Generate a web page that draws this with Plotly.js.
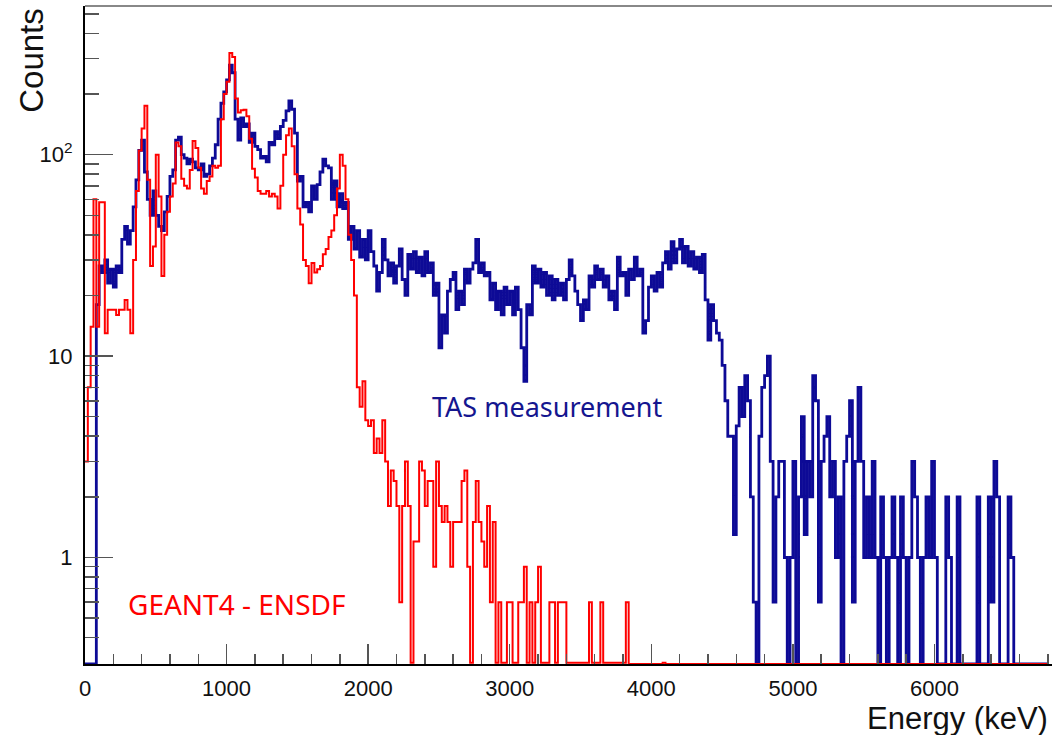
<!DOCTYPE html>
<html>
<head>
<meta charset="utf-8">
<script src="https://cdn.plot.ly/plotly-3.0.1.min.js"></script>
<style>
  html, body { margin: 0; padding: 0; background: #ffffff; }
  #chart { width: 1052px; height: 735px; }
</style>
</head>
<body>
<div id="chart"></div>
<script>
// ---- Histogram binning (energy axis, keV) ----
const binStartKeV = 0;
const binWidthKeV = 20;

// ---- TAS measurement (blue), counts per 20 keV bin, 0 - 6800 keV ----
const tasCounts = [
  0,0,0,0,18,28,26,30,23,27,
  22,28,26,38,44,36,42,55,75,105,
  118,82,60,50,66,50,44,42,52,62,
  78,84,118,122,100,96,90,95,92,86,
  84,90,78,80,88,96,112,150,180,205,
  235,278,255,150,118,152,138,142,115,128,
  110,106,96,98,92,115,112,130,120,138,
  148,165,185,168,128,74,78,55,58,52,
  70,60,71,82,95,88,86,60,74,55,
  64,54,58,38,44,34,42,31,38,30,
  42,33,28,21,26,38,30,25,29,23,
  28,34,24,20,32,27,33,26,31,25,
  33,26,29,20,23,11,16,13,21,24,
  26,17,21,18,27,23,27,29,38,26,
  29,25,26,19,23,17,21,16,22,18,
  21,16,22,17,11,7.5,18,16,28,23,
  27,22,26,20,25,19,24,20,23,19,
  24,30,25,21,18,15,19,17,25,22,
  28,24,27,22,25,19,21,17,31,25,
  26,20,27,24,31,25,27,13,15,22,
  25,21,26,22,29,33,27,37,29,34,
  38,29,35,28,33,27,31,26,32,19,
  12,18,15,13,12,9,6,4,4,1.3,
  4.5,7,5,8,6,2,0.6,0,4,7,
  8,10,3,0.6,2,3,3,1,0,1,
  3,0,2,5,1.3,3,2,8,6,0.6,
  3,4,5,2,3,1,2,0,3,4,
  6,0.6,3,7,3,1,2,1,3,1,
  0,2,1,0,1,2,1,0,2,1,
  0,1,3,2,1,0,1,2,1,3,
  1,0,0,0,2,1,0,0,2,0,
  0,0,0,0,0,2,0,0,0,2,
  0.6,3,2,0,0,0,2,1,0,0,
  0,0,0,0,0,0,0,0,0,0
];

// ---- GEANT4 - ENSDF simulation (red), counts per 20 keV bin ----
const geantCounts = [
  3,7,14,60,14,58,58,13,17,17,
  17,16,17,17,19,17,13,30,66,105,
  135,175,75,28,35,100,62,25,40,52,
  62,72,115,110,76,70,68,84,117,108,
  86,68,64,74,78,88,86,88,150,200,
  230,320,305,190,162,166,167,155,120,85,
  77,66,64,64,66,62,64,62,54,70,
  100,125,135,110,80,54,45,30,28,23,
  29,26,27,28,32,34,39,42,50,68,
  100,88,60,40,30,20,7,5.6,7.5,4.8,
  4.5,4.8,3.3,3.9,3.3,4.8,3.0,1.8,2.7,2.4,
  1.8,0.6,1.8,3.0,1.8,0.3,1.2,1.2,3.0,2.7,
  1.8,2.4,2.4,0.9,3.0,1.8,1.5,1.8,1.5,0.9,
  1.5,1.5,1.5,2.4,2.7,0.9,0.3,1.5,2.4,1.5,
  1.2,0.9,1.8,0.6,1.5,0.3,0.6,0.3,0.3,0.6,
  0.6,0.3,0.3,0.6,0.6,0.9,0.3,0.6,0.3,0.6,
  0.9,0.3,0.3,0.3,0.6,0.6,0.3,0.6,0.6,0.6,
  0.3,0.3,0.3,0.3,0.3,0.3,0.3,0.3,0.6,0.3,
  0.3,0.3,0.6,0.3,0.3,0.3,0.3,0.3,0.3,0.3,
  0.3,0.6,0,0,0,0,0,0,0,0,
  0,0,0,0,0.3,0,0,0,0,0,
  0,0,0,0,0,0,0,0,0,0,
  0,0,0,0,0,0,0,0,0,0,
  0,0,0,0,0,0,0,0,0,0,
  0,0,0,0,0,0,0,0,0,0,
  0,0,0,0,0,0,0,0,0,0,
  0,0,0,0,0,0,0,0,0,0,
  0,0,0,0,0,0,0,0,0,0,
  0,0,0,0,0,0,0,0,0,0,
  0,0,0,0,0,0,0,0,0,0,
  0,0,0,0,0,0,0,0,0,0,
  0,0,0,0,0,0,0,0,0,0,
  0,0,0,0,0,0,0,0,0,0,
  0,0,0,0,0,0,0,0,0,0
];

// ---- Axis tick labels ----
const yTickVals = [1, 10, 100];
const yTickText = ['1', '10', '10<sup>2</sup>'];
const yMinorVals = [0.4,0.5,0.6,0.7,0.8,0.9, 2,3,4,5,6,7,8,9, 20,30,40,50,60,70,80,90, 200,300,400,500];

const yMin = 0.296, yMax = 547;
const xMax = 6830;

// empty bins are drawn at the bottom of the frame (ROOT style on log axis)
function stepTrace(counts, color, width, name) {
  const x = [], y = [];
  counts.forEach((c, i) => {
    x.push(binStartKeV + i * binWidthKeV);
    y.push(c > 0 ? c : yMin);
  });
  x.push(binStartKeV + counts.length * binWidthKeV);
  y.push(y[y.length - 1]);
  return {
    type: 'scatter', mode: 'lines', name: name,
    x: x, y: y,
    line: { shape: 'hv', color: color, width: width },
    hoverinfo: 'x+y'
  };
}

const traces = [
  stepTrace(tasCounts, '#0d0a96', 2.8, 'TAS measurement'),
  stepTrace(geantCounts, '#ff0000', 2, 'GEANT4 - ENSDF')
];

const axisFont = { family: '"Liberation Sans", Arial, Helvetica, sans-serif', size: 22, color: '#111' };

const layout = {
  width: 1052, height: 735,
  margin: { l: 85, r: 0, t: 6, b: 71, pad: 0 },
  paper_bgcolor: '#ffffff', plot_bgcolor: '#ffffff',
  showlegend: false,
  xaxis: {
    range: [0, xMax],
    showgrid: false, zeroline: false,
    showline: true, linecolor: '#000', linewidth: 2,
    ticks: 'inside', ticklen: 20, tickwidth: 1.5, tickcolor: '#555',
    tick0: 0, dtick: 1000,
    tickfont: axisFont,
    ticklabelstandoff: 4,
    minor: { ticks: 'inside', ticklen: 10, tickwidth: 1.5, tickcolor: '#555', dtick: 200, tick0: 0 }
  },
  yaxis: {
    type: 'log',
    range: [Math.log10(yMin), Math.log10(yMax)],
    showgrid: false, zeroline: false,
    showline: true, linecolor: '#000', linewidth: 2,
    ticks: 'inside', ticklen: 28, tickwidth: 1.5, tickcolor: '#555',
    tickmode: 'array', tickvals: yTickVals, ticktext: yTickText,
    tickfont: axisFont,
    ticklabelstandoff: 6,
    minor: { ticks: 'inside', ticklen: 14, tickwidth: 1.5, tickcolor: '#555', tickmode: 'array', tickvals: yMinorVals }
  },
  shapes: [
    { type: 'line', xref: 'paper', yref: 'paper', x0: 0, x1: 1, y0: 1, y1: 1,
      line: { color: '#888', width: 2 } }
  ],
  annotations: [
    { text: 'Counts', xref: 'paper', yref: 'paper', x: -0.055, y: 0.918,
      xanchor: 'center', yanchor: 'middle', textangle: -90, showarrow: false,
      font: { family: '"Liberation Sans", Arial, sans-serif', size: 33, color: '#111' } },
    { text: 'Energy (keV)', xref: 'paper', yref: 'paper', x: 0.998, y: -0.083,
      xanchor: 'right', yanchor: 'middle', showarrow: false,
      font: { family: '"Liberation Sans", Arial, sans-serif', size: 31, color: '#111' } },
    { text: 'TAS measurement', xref: 'paper', yref: 'paper', x: 0.478, y: 0.392,
      xanchor: 'center', yanchor: 'middle', showarrow: false,
      font: { family: '"Noto Sans", "Open Sans", sans-serif', size: 27, color: '#15168f' } },
    { text: 'GEANT4 - ENSDF', xref: 'paper', yref: 'paper', x: 0.1567, y: 0.091,
      xanchor: 'center', yanchor: 'middle', showarrow: false,
      font: { family: '"Noto Sans", "Open Sans", sans-serif', size: 28, color: '#ff0000' } }
  ]
};

Plotly.newPlot('chart', traces, layout, { displayModeBar: false, staticPlot: true });
</script>
</body>
</html>
